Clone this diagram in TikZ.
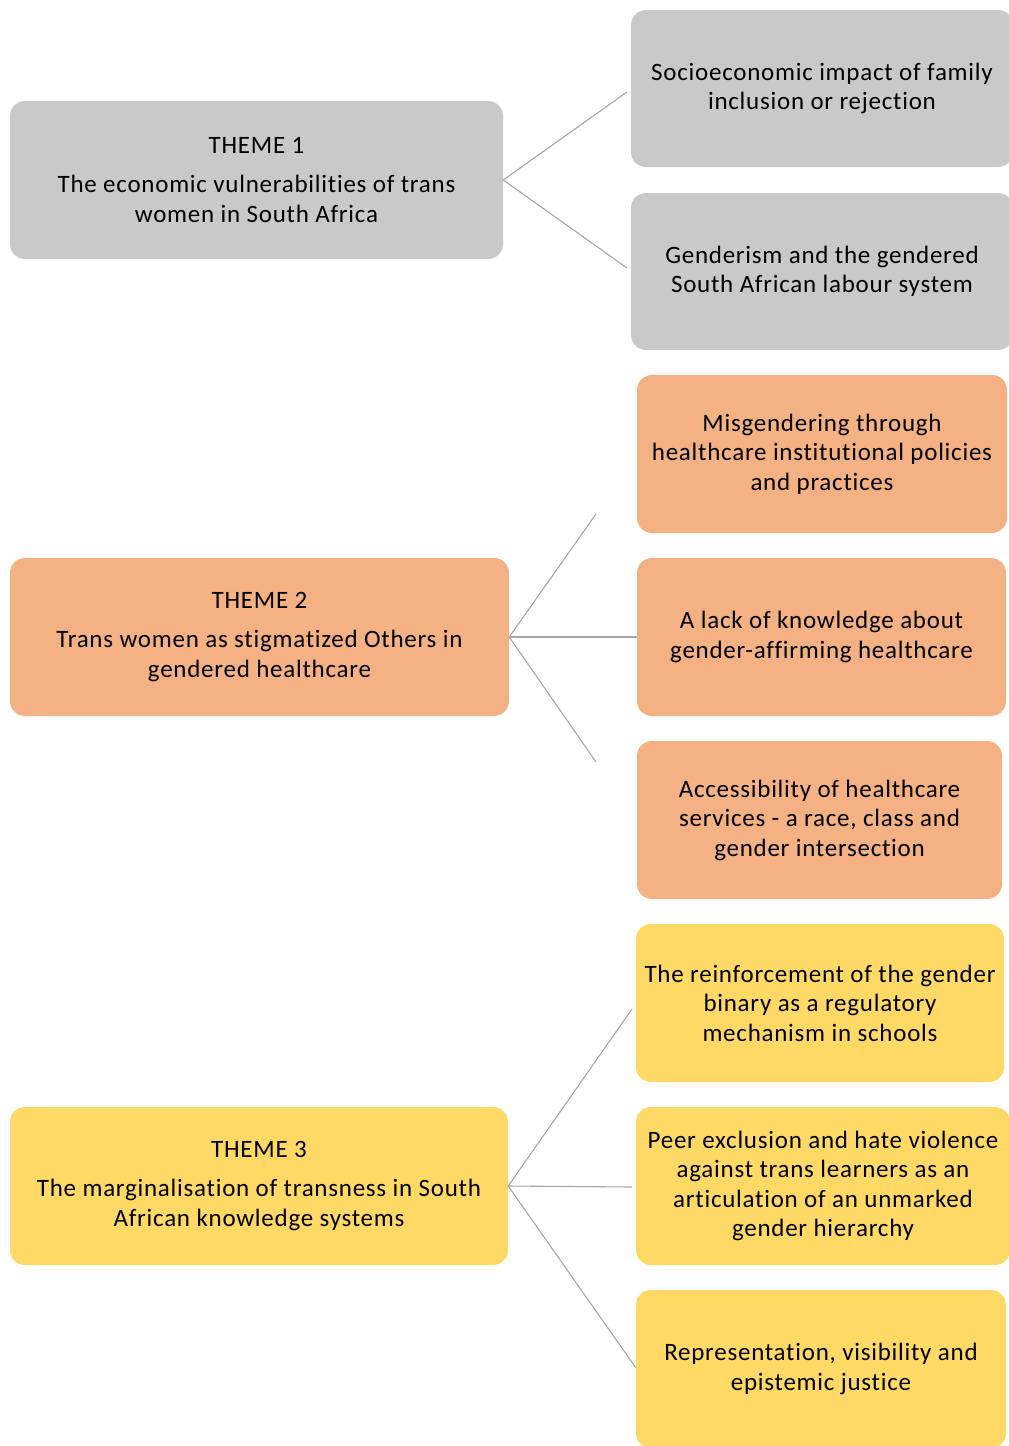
\documentclass[tikz,border=0pt]{standalone}
\usepackage{fontspec}
\setmainfont[Ligatures={NoCommon,NoDiscretionary,NoRare},LetterSpace=3]{Carlito}
\definecolor{grayc}{HTML}{C9C9C9}
\definecolor{orangec}{HTML}{F4B183}
\definecolor{yellowc}{HTML}{FFD966}
\definecolor{linec}{HTML}{A6A6A6}
\begin{document}
\begin{tikzpicture}[x=1pt,y=-1pt,
  tbox/.style={rounded corners=15pt, inner sep=0pt, align=center,
    font=\fontsize{25}{29.5}\selectfont, text=black},
  conn/.style={draw=linec, line width=1.1pt}]
\useasboundingbox (0,0) rectangle (1009,1446);
\begin{scope}
\clip (0,0) rectangle (1009,1446);
% Theme 1
\node[tbox, fill=grayc, minimum width=493pt, minimum height=158pt] (t1) at (256.5,180)
  {THEME 1\\[10pt]The economic vulnerabilities of trans\\women in South Africa};
\node[tbox, fill=grayc, minimum width=382pt, minimum height=157pt] (s1a) at (822,88.5)
  {Socioeconomic impact of family\\inclusion or rejection};
\node[tbox, fill=grayc, minimum width=382pt, minimum height=157pt] (s1b) at (822,271.5)
  {Genderism and the gendered\\South African labour system};
% Theme 2
\node[tbox, fill=orangec, minimum width=499pt, minimum height=158pt] (t2) at (259.5,637)
  {THEME 2\\[10pt]Trans women as stigmatized Others in\\gendered healthcare};
\node[tbox, fill=orangec, minimum width=370pt, minimum height=158pt] (s2a) at (822,454)
  {Misgendering through\\healthcare institutional policies\\and practices};
\node[tbox, fill=orangec, minimum width=369pt, minimum height=158pt] (s2b) at (821.5,637)
  {A lack of knowledge about\\gender-affirming healthcare};
\node[tbox, fill=orangec, minimum width=365pt, minimum height=158pt] (s2c) at (819.5,820)
  {Accessibility of healthcare\\services - a race, class and\\gender intersection};
% Theme 3
\node[tbox, fill=yellowc, minimum width=498pt, minimum height=158pt] (t3) at (259,1186)
  {THEME 3\\[10pt]The marginalisation of transness in South\\African knowledge systems};
\node[tbox, fill=yellowc, minimum width=368pt, minimum height=158pt] (s3a) at (820,1003)
  {The reinforcement of the gender\\binary as a regulatory\\mechanism in schools};
\node[tbox, fill=yellowc, minimum width=374pt, minimum height=158pt] (s3b) at (823,1186)
  {Peer exclusion and hate violence\\against trans learners as an\\articulation of an unmarked\\gender hierarchy};
\node[tbox, fill=yellowc, minimum width=370pt, minimum height=158pt] (s3c) at (821,1369)
  {Representation, visibility and\\epistemic justice};
\end{scope}
% connector ends
\coordinate (e1a) at (627,92);
\coordinate (e1b) at (627,268);
\coordinate (e2a) at (596,514);
\coordinate (e2c) at (596,762);
\coordinate (e3a) at (632,1009);
\coordinate (e3b) at (632,1187);
\coordinate (e3c) at (636,1368);
\draw[conn] (e1a) -- (t1.east) -- (e1b);
\draw[conn] (e2a) -- (t2.east) -- (e2c);
\draw[conn] (t2.east) -- (s2b.west);
\draw[conn] (e3a) -- (t3.east) -- (e3c);
\draw[conn] (t3.east) -- (e3b);
\end{tikzpicture}
\end{document}
